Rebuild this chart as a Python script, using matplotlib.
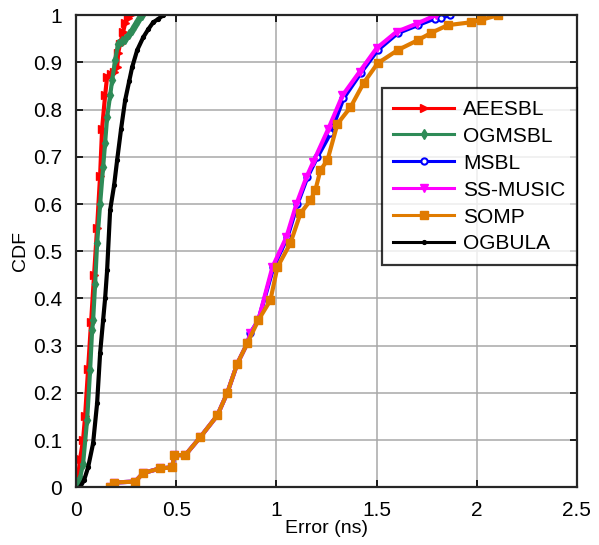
import matplotlib.pyplot as plt

plt.rcParams['font.family'] = ['Liberation Sans', 'DejaVu Sans']

# CDF curves (error in ns, cumulative probability)
aeesbl_x = [0.0, 0.01, 0.02, 0.035, 0.045, 0.06, 0.075, 0.09, 0.105, 0.12, 0.13,
            0.145, 0.155, 0.175, 0.19, 0.205, 0.21, 0.22, 0.235, 0.245, 0.26, 0.27]
aeesbl_y = [0.0, 0.02, 0.06, 0.1, 0.15, 0.25, 0.35, 0.45, 0.55, 0.66, 0.76,
            0.83, 0.87, 0.875, 0.88, 0.89, 0.92, 0.94, 0.965, 0.983, 0.995, 1.0]

ogmsbl_x = [0.005, 0.02, 0.035, 0.055, 0.07, 0.08, 0.085, 0.095, 0.105, 0.12, 0.135,
            0.145, 0.155, 0.17, 0.18, 0.195, 0.21, 0.23, 0.245, 0.265, 0.28, 0.295, 0.31, 0.33]
ogmsbl_y = [0.0, 0.02, 0.05, 0.142, 0.248, 0.333, 0.354, 0.43, 0.517, 0.6, 0.678,
            0.73, 0.784, 0.83, 0.862, 0.905, 0.94, 0.945, 0.95, 0.96, 0.968, 0.98, 0.989, 1.0]

msbl_x = [0.17, 0.19, 0.295, 0.335, 0.42, 0.48, 0.49, 0.545, 0.62, 0.705, 0.755,
          0.805, 0.855, 0.87, 0.91, 0.985, 1.055, 1.105, 1.155, 1.205, 1.27, 1.335,
          1.42, 1.505, 1.605, 1.705, 1.79, 1.82, 1.865]
msbl_y = [0.0, 0.01, 0.012, 0.03, 0.04, 0.042, 0.068, 0.068, 0.106, 0.152, 0.2,
          0.262, 0.305, 0.326, 0.354, 0.466, 0.53, 0.6, 0.657, 0.7, 0.75, 0.824,
          0.877, 0.926, 0.962, 0.979, 0.993, 0.995, 1.0]

ssmusic_x = [0.17, 0.19, 0.295, 0.335, 0.42, 0.48, 0.49, 0.545, 0.62, 0.705, 0.755,
             0.805, 0.855, 0.87, 0.91, 0.98, 1.05, 1.1, 1.15, 1.185, 1.26, 1.33,
             1.415, 1.5, 1.6, 1.7, 1.795]
ssmusic_y = [0.0, 0.01, 0.012, 0.03, 0.04, 0.042, 0.068, 0.068, 0.106, 0.152, 0.2,
             0.262, 0.305, 0.326, 0.354, 0.466, 0.53, 0.6, 0.657, 0.69, 0.76, 0.83,
             0.88, 0.93, 0.965, 0.982, 1.0]

somp_x = [0.17, 0.19, 0.295, 0.335, 0.42, 0.48, 0.49, 0.545, 0.62, 0.705, 0.755,
          0.805, 0.855, 0.91, 0.97, 1.005, 1.07, 1.12, 1.17, 1.195, 1.22, 1.255,
          1.305, 1.37, 1.435, 1.505, 1.605, 1.705, 1.77, 1.855, 1.97, 2.02, 2.105]
somp_y = [0.0, 0.01, 0.012, 0.03, 0.04, 0.042, 0.068, 0.068, 0.106, 0.152, 0.2,
          0.262, 0.305, 0.354, 0.396, 0.466, 0.517, 0.58, 0.608, 0.63, 0.672, 0.693,
          0.77, 0.805, 0.856, 0.898, 0.926, 0.947, 0.962, 0.979, 0.985, 0.99, 1.0]

ogbula_x = [0.02, 0.04, 0.06, 0.085, 0.105, 0.12, 0.135, 0.145, 0.155, 0.17, 0.19,
            0.205, 0.225, 0.245, 0.265, 0.28, 0.305, 0.335, 0.36, 0.385, 0.41, 0.435]
ogbula_y = [0.0, 0.015, 0.042, 0.093, 0.178, 0.284, 0.354, 0.4, 0.46, 0.587, 0.64,
            0.693, 0.76, 0.82, 0.86, 0.89, 0.926, 0.953, 0.97, 0.985, 0.992, 1.0]

series = [
    ('AEESBL', aeesbl_x, aeesbl_y, '#FF0000', '>'),
    ('OGMSBL', ogmsbl_x, ogmsbl_y, '#2E8B57', 'd'),
    ('MSBL', msbl_x, msbl_y, '#0000FF', 'o'),
    ('SS-MUSIC', ssmusic_x, ssmusic_y, '#FF00FF', 'v'),
    ('SOMP', somp_x, somp_y, '#E07B00', 's'),
    ('OGBULA', ogbula_x, ogbula_y, '#000000', '.'),
]

fig = plt.figure(figsize=(5.99, 5.45), dpi=100)
ax = fig.add_axes([0.127, 0.106, 0.836, 0.866])

for name, xs, ys, color, marker in series:
    if marker == 'o':
        ax.plot(xs, ys, color=color, marker=marker, markersize=4.5, markerfacecolor='white',
                markeredgewidth=1.5, linewidth=3, label=name)
    else:
        ax.plot(xs, ys, color=color, marker=marker, markersize=5.5, linewidth=3, label=name)

ax.set_xlim(0, 2.5)
ax.set_ylim(0, 1)
ax.set_xticks([0, 0.5, 1, 1.5, 2, 2.5])
ax.set_xticklabels(['0', '0.5', '1', '1.5', '2', '2.5'])
ax.set_yticks([i / 10 for i in range(11)])
ax.set_yticklabels(['0', '0.1', '0.2', '0.3', '0.4', '0.5', '0.6', '0.7', '0.8', '0.9', '1'])
ax.tick_params(labelsize=15, direction='in', length=5, width=1.2, top=True, right=True)
ax.tick_params(axis='x', pad=10)
ax.tick_params(axis='y', pad=10)
ax.grid(True, color='#a8a8a8', linewidth=1.1)
for sp in ax.spines.values():
    sp.set_linewidth(1.6)
    sp.set_color('#262626')
ax.set_xlabel('Error (ns)', fontsize=14, labelpad=0)
ax.set_ylabel('CDF', fontsize=14, labelpad=3)

leg = ax.legend(loc='upper right', bbox_to_anchor=(1.0, 0.845), fontsize=15, frameon=True,
                fancybox=False, edgecolor='black', borderpad=0.55, handlelength=2.9,
                handletextpad=0.45, labelspacing=0.38, borderaxespad=0.0)
leg.get_frame().set_linewidth(1.6)
for line in leg.get_lines():
    line.set_linewidth(2.2)

fig.savefig('out.png', dpi=100)
